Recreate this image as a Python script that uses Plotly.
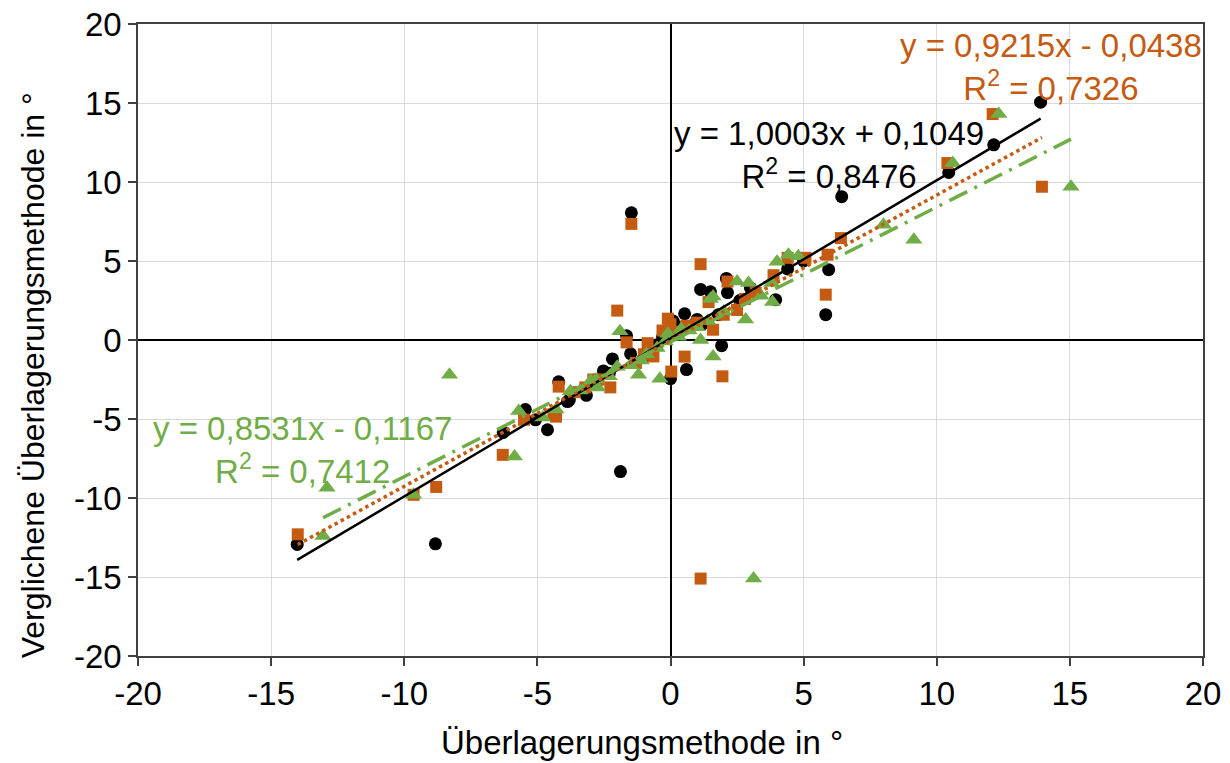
import plotly.graph_objects as go

# ---- data ----
black_x = [13.9, 12.14, 10.45, 6.43, 5.94, 5.83, 3.95, 2.1, 2.14, 1.13, 1.5, 0.53, 1.92, 0.6, 0.0,
           -1.47, -1.65, -1.5, -2.18, -2.52, -3.16, -3.8, -3.87, -4.2, -4.62, -5.07, -5.45, -6.28,
           -8.83, -14.02, -1.88, 4.4, 5.0, 3.0, 2.6, 1.8, 1.2, 0.8, 0.3, -0.3, -0.8, -1.0, -2.8,
           -2.3, 0.2, 1.0, -0.5, 0.1]
black_y = [15.05, 12.35, 10.6, 9.07, 4.45, 1.6, 2.55, 3.9, 3.0, 3.2, 3.05, 1.66, -0.36, -1.87, -2.45,
           8.05, 0.27, -0.87, -1.2, -1.96, -3.5, -3.8, -3.9, -2.65, -5.68, -5.05, -4.4, -5.85,
           -12.9, -12.94, -8.33, 4.5, 5.0, 3.3, 2.5, 1.6, 1.0, 0.9, 0.4, 0.2, -0.6, -1.1, -2.8,
           -2.1, 0.9, 1.3, -0.3, 1.2]

orange_x = [12.1, 10.4, 13.95, 6.4, 5.9, 5.83, 5.07, 4.4, 3.87, 2.14, 2.5, 1.43, 1.6, 1.13, 0.53,
            0.03, 1.95, 1.13, -0.1, -0.64, -0.86, -1.3, -1.47, -1.65, -2.0, -2.26, -2.7, -4.2,
            -4.3, -4.4, -5.5, -6.3, -8.8, -9.65, -14.0, 0.2, 0.6, 1.0, 2.8, 3.2, -0.3, -1.0,
            -3.2, -3.6, 0.0, 2.0, -2.9]
orange_y = [14.3, 11.2, 9.7, 6.45, 5.4, 2.87, 5.2, 5.2, 4.1, 3.7, 1.9, 2.4, 0.65, 4.8, -1.05,
            -2.0, -2.3, -15.1, 1.35, -1.04, -0.2, -1.45, 7.35, -0.15, 1.86, -3.0, -2.5, -2.95,
            -4.85, -4.7, -5.05, -7.27, -9.3, -9.8, -12.3, 0.5, 0.9, 1.1, 2.6, 3.0, 0.6, -0.9,
            -3.0, -3.3, 1.0, 1.6, -2.5]

green_x = [15.04, 12.33, 10.6, 9.14, 8.0, 4.8, 4.43, 4.0, 3.83, 2.93, 2.5, 2.82, 1.6, 1.13, 1.6,
           3.12, -0.4, -1.2, -1.9, -8.3, -12.9, -13.05, -9.65, -5.86, -5.7, -4.8, -4.3, -3.4,
           -2.8, -2.3, -1.5, -0.9, -0.5, -0.1, 0.3, 0.7, 1.0, 1.4, 2.0, 3.4, 3.8, -0.2, 0.4,
           -3.0, -2.0, -1.1, 1.5, -2.74, -3.76]
green_y = [9.7, 14.3, 11.2, 6.35, 7.3, 5.3, 5.4, 4.95, 2.4, 3.6, 3.7, 1.3, 2.75, 0.0, -1.05,
           -15.1, -2.45, -2.2, 0.55, -2.2, -9.35, -12.4, -9.8, -7.38, -4.5, -4.9, -4.4, -3.2,
           -2.5, -2.3, -1.6, -0.9, -0.5, 0.4, 0.2, 0.6, 0.8, 1.2, 1.8, 2.8, 3.6, -0.1, 0.7,
           -2.6, -1.7, -1.3, 2.6, -3.0, -3.25]

# trendline coefficients (from the chart's equations) and x extents
black_fit = {"slope": 1.0003, "intercept": 0.1049, "x": [-14.02, 13.9]}
orange_fit = {"slope": 0.9215, "intercept": -0.0438, "x": [-14.0, 13.95]}
green_fit = {"slope": 0.8531, "intercept": -0.1167, "x": [-13.05, 15.04]}

tick_vals = [-20, -15, -10, -5, 0, 5, 10, 15, 20]
tick_text = ["-20", "-15", "-10", "-5", "0", "5", "10", "15", "20"]

x_title = "Überlagerungsmethode in °"
y_title = "Verglichene Überlagerungsmethode in °"

BLACK = "#000000"
ORANGE = "#C55A11"
GREEN = "#70AD47"
FONT = "Liberation Sans, Arial, sans-serif"

fig = go.Figure()
fig.add_trace(go.Scatter(x=black_x, y=black_y, mode="markers",
                         marker=dict(symbol="circle", size=13, color=BLACK, line=dict(width=0))))
fig.add_trace(go.Scatter(x=orange_x, y=orange_y, mode="markers",
                         marker=dict(symbol="square", size=12, color=ORANGE, line=dict(width=0))))
fig.add_trace(go.Scatter(x=green_x, y=green_y, mode="markers",
                         marker=dict(symbol="triangle-up", size=15, color=GREEN, line=dict(width=0))))


def fit_line(f):
    xs = f["x"]
    return xs, [f["slope"] * v + f["intercept"] for v in xs]


bx, by = fit_line(black_fit)
ox, oy = fit_line(orange_fit)
gx, gy = fit_line(green_fit)
fig.add_trace(go.Scatter(x=bx, y=by, mode="lines", line=dict(color=BLACK, width=2.5)))
fig.add_trace(go.Scatter(x=ox, y=oy, mode="lines", line=dict(color=ORANGE, width=3.5, dash="dot")))
fig.add_trace(go.Scatter(x=gx, y=gy, mode="lines",
                         line=dict(color=GREEN, width=3.5, dash="20px,8px,3px,8px")))

ann_font = 33
fig.add_annotation(x=5.94, y=11.73, xref="x", yref="y", showarrow=False,
                   text="y = 1,0003x + 0,1049<br>R<sup>2</sup> = 0,8476",
                   font=dict(family=FONT, size=ann_font, color=BLACK), align="center")
fig.add_annotation(x=14.29, y=17.3, xref="x", yref="y", showarrow=False,
                   text="y = 0,9215x - 0,0438<br>R<sup>2</sup> = 0,7326",
                   font=dict(family=FONT, size=ann_font, color=ORANGE), align="center")
fig.add_annotation(x=-13.83, y=-6.94, xref="x", yref="y", showarrow=False,
                   text="y = 0,8531x - 0,1167<br>R<sup>2</sup> = 0,7412",
                   font=dict(family=FONT, size=ann_font, color=GREEN), align="center")

# axis titles (placed as in the reference)
fig.add_annotation(x=0.4737, y=-0.137, xref="paper", yref="paper", showarrow=False,
                   text=x_title, xanchor="center", yanchor="middle",
                   font=dict(family=FONT, size=33, color=BLACK))
fig.add_annotation(x=-0.099, y=0.4435, xref="paper", yref="paper", showarrow=False,
                   text=y_title, textangle=-90, xanchor="center", yanchor="middle",
                   font=dict(family=FONT, size=32, color=BLACK))

axis_common = dict(
    range=[-20, 20], tickmode="array", tickvals=tick_vals, ticktext=tick_text,
    showgrid=True, gridcolor="#D9D9D9", gridwidth=1,
    zeroline=True, zerolinecolor=BLACK, zerolinewidth=2,
    showline=True, linecolor="#404040", linewidth=1.5, mirror=True,
    ticks="outside", ticklen=8, tickcolor="#404040", tickwidth=1.5,
    tickfont=dict(family=FONT, size=33, color=BLACK),
    automargin=False,
)

fig.update_layout(
    width=1230, height=763,
    margin=dict(l=138, r=27, t=24, b=107),
    paper_bgcolor="white", plot_bgcolor="white",
    showlegend=False,
    xaxis=dict(axis_common),
    yaxis=dict(axis_common),
)

fig.write_html("out.html")
